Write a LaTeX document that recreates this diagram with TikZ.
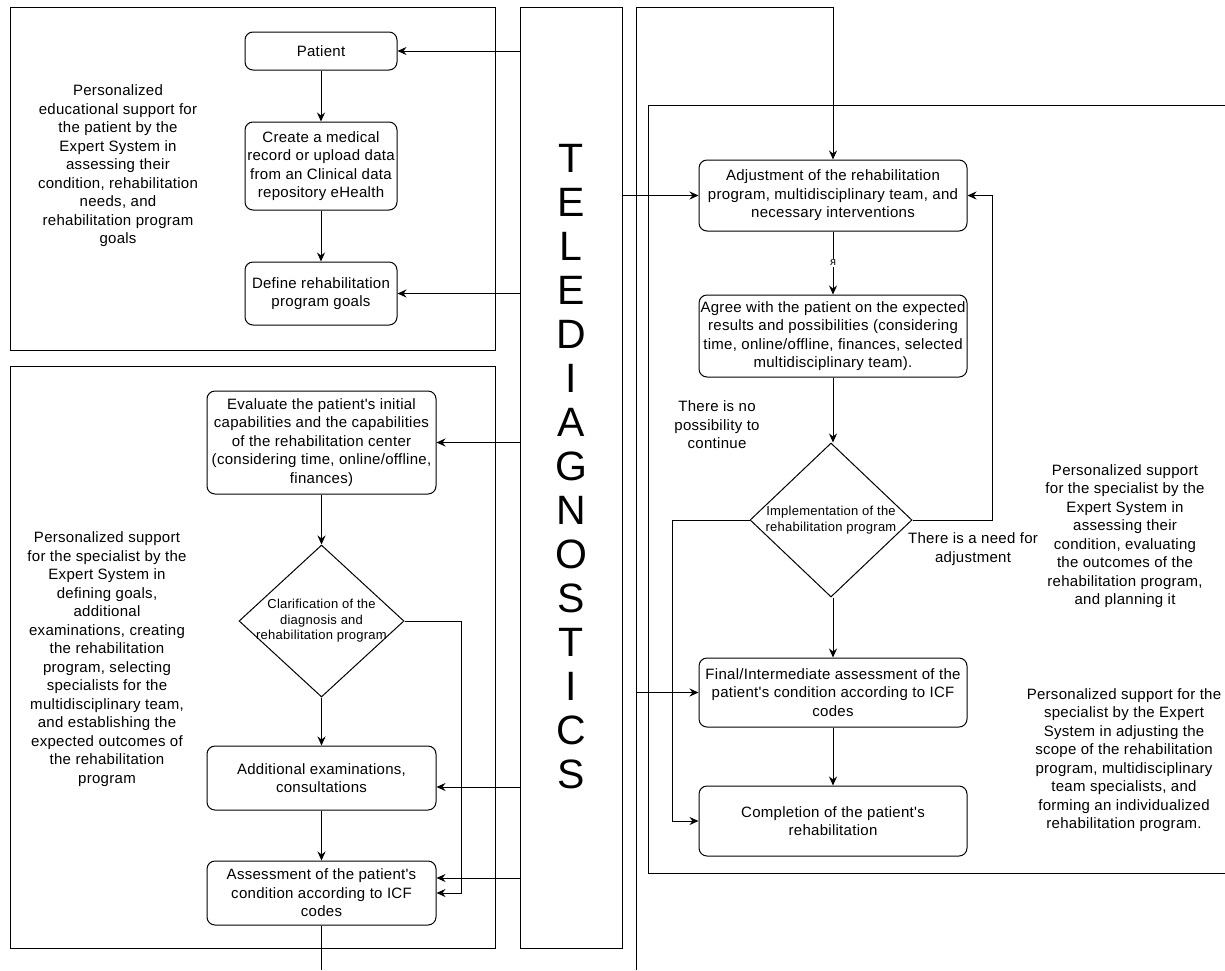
\documentclass[tikz,border=0pt]{standalone}
\usepackage{fontspec}
\setmainfont[LetterSpace=1.9, Ligatures=TeXOff]{Liberation Sans}
\usetikzlibrary{arrows.meta,shapes.geometric}
\begin{document}
\begin{tikzpicture}[x=1pt,y=-1pt, line width=1pt,
  every node/.style={font=\fontsize{15}{18.5}\selectfont},
  box/.style={draw, rounded corners=8pt, align=center, inner sep=0pt},
  dia/.style={draw, diamond, inner sep=0pt},
  diatext/.style={align=center, inner sep=0pt, font=\fontsize{13}{15.5}\selectfont},
  txt/.style={align=center, inner sep=0pt},
  arr/.style={-{Stealth[length=9pt,width=8pt,inset=3pt]}},
  frame/.style={draw}]
\useasboundingbox (0,0) rectangle (1225,970);
% frames
\draw[frame] (10,7) rectangle (495,350);
\draw[frame] (10,366) rectangle (495,948);
\draw[frame] (1228,105) -- (648,105) -- (648,873) -- (1228,873);
\node[draw, minimum width=102pt, minimum height=941pt, inner sep=0pt] (teled) at (571,477.5) {};
\node[txt, font=\fontsize{41}{44}\selectfont] (tdletters) at (571,467) {T\\E\\L\\E\\D\\I\\A\\G\\N\\O\\S\\T\\I\\C\\S};
% top-left
\node[box, minimum width=152pt, minimum height=38pt] (patient) at (321,51) {Patient};
\node[box, minimum width=152pt, minimum height=88pt] (create) at (321,166) {Create a medical\\record or upload data\\from an Clinical data\\repository eHealth};
\node[box, minimum width=152pt, minimum height=63pt] (define) at (321,293.5) {Define rehabilitation\\program goals};
\node[txt] (ltext) at (118,166) {Personalized\\educational support for\\the patient by the\\Expert System in\\assessing their\\condition, rehabilitation\\needs, and\\rehabilitation program\\goals};
% bottom-left
\node[box, minimum width=229pt, minimum height=103pt] (evaluate) at (321.5,442.5) {Evaluate the patient's initial\\capabilities and the capabilities\\of the rehabilitation center\\(considering time, online/offline,\\finances)};
\node[dia, minimum width=165pt, minimum height=152pt, label={[diatext]center:{Clarification of the\\diagnosis and\\rehabilitation program}}] (clar) at (321.5,621) {};
\node[box, minimum width=229pt, minimum height=64pt] (addl) at (321.5,778) {Additional examinations,\\consultations};
\node[box, minimum width=229pt, minimum height=64pt] (assess) at (321.5,893) {Assessment of the patient's\\condition according to ICF\\codes};
\node[txt] (btext) at (107,659) {Personalized support\\for the specialist by the\\Expert System in\\defining goals,\\additional\\examinations, creating\\the rehabilitation\\program, selecting\\specialists for the\\multidisciplinary team,\\and establishing the\\expected outcomes of\\the rehabilitation\\program};
% right
\node[box, minimum width=268pt, minimum height=71pt] (adjust) at (833,195.5) {Adjustment of the rehabilitation\\program, multidisciplinary team, and\\necessary interventions};
\node[box, minimum width=268pt, minimum height=82pt] (agree) at (833,336) {Agree with the patient on the expected\\results and possibilities (considering\\time, online/offline, finances, selected\\multidisciplinary team).};
\node[dia, minimum width=162pt, minimum height=154pt, label={[diatext]center:{Implementation of the\\rehabilitation program}}] (impl) at (831,520) {};
\node[box, minimum width=268pt, minimum height=69pt] (final) at (833,692.5) {Final/Intermediate assessment of the\\patient's condition according to ICF\\codes};
\node[box, minimum width=268pt, minimum height=70pt] (complete) at (833,821) {Completion of the patient's\\rehabilitation};
\node[txt] (nolabel) at (717,425) {There is no\\possibility to\\continue};
\node[txt] (needlabel) at (973,549) {There is a need for\\adjustment};
\node[txt] (r1text) at (1125,536) {Personalized support\\for the specialist by the\\Expert System in\\assessing their\\condition, evaluating\\the outcomes of the\\rehabilitation program,\\and planning it};
\node[txt] (r2text) at (1124,760) {Personalized support for the\\specialist by the Expert\\System in adjusting the\\scope of the rehabilitation\\program, multidisciplinary\\team specialists, and\\forming an individualized\\rehabilitation program.};
% connectors top-left
\draw[arr] (patient) -- (create);
\draw[arr] (create) -- (define);
\draw[arr] (teled.west |- patient.east) -- (patient.east);
\draw[arr] (teled.west |- define.east) -- (define.east);
% connectors bottom-left
\draw[arr] (teled.west |- evaluate.east) -- (evaluate.east);
\draw[arr] (evaluate) -- (clar);
\draw[arr] (clar) -- (addl);
\draw[arr] (addl) -- (assess);
\draw[arr] (teled.west |- 0,787) -- ([yshift=-9pt]addl.east);
\draw[arr] (teled.west |- 0,878) -- ([yshift=15pt]assess.east);
\draw[arr] (clar.east) -| ([xshift=25pt]assess.east) -- (assess.east);
\coordinate (abot) at (assess.south |- 0,970);
\draw (assess.south) -- (abot);
% right connectors
\coordinate (busbot) at (636,970);
\coordinate (bustop) at (636,7);
\draw[arr] (busbot) -- (bustop) -| (adjust.north);
\draw[arr] (teled.east |- adjust.west) -- (adjust.west);
\draw[arr] (adjust) -- node[fill=white, inner sep=1pt, font=\fontsize{11}{12}\selectfont] {я} (agree);
\draw[arr] (agree.south) -- (impl.north -| agree.south);
\draw[arr] (impl.south -| final.north) -- (final.north);
\draw[arr] (final) -- (complete);
\draw[arr] (impl.east) -| ([xshift=25pt]adjust.east) -- (adjust.east);
\draw[arr] (impl.west) -| ([xshift=-26pt]complete.west) -- (complete.west);
\draw[arr] (busbot |- final.west) -- (final.west);
\end{tikzpicture}
\end{document}
